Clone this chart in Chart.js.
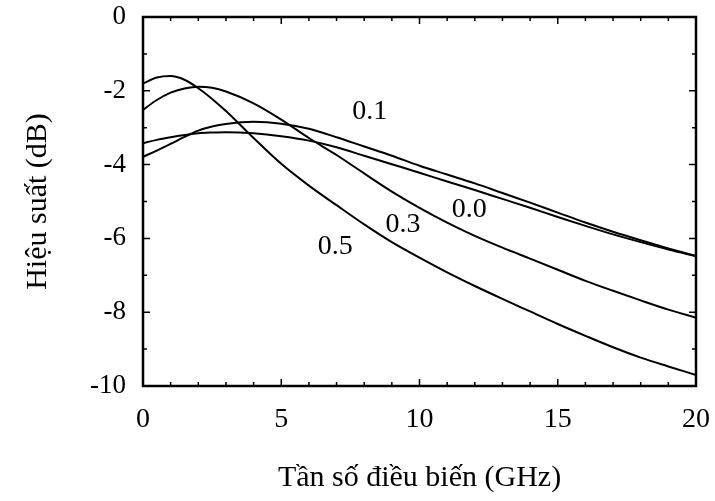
<!DOCTYPE html>
<html>
<head>
<meta charset="utf-8">
<script src="https://cdn.jsdelivr.net/npm/chart.js@4"></script>
<style>
  html, body { margin: 0; padding: 0; background: #fff; }
  #wrap { width: 715px; height: 501px; }
</style>
</head>
<body>
<div id="wrap"><canvas id="c" width="715" height="501"></canvas></div>
<script>
// ─ Data ──────────────────────────────────────────────────────────────────────
const freqGHz = [0, 0.5, 1, 1.5, 2, 2.5, 3, 4, 5, 6, 7, 8, 9, 10, 11, 12, 13, 14, 15, 16, 17, 18, 19, 20];

const eff00 = [-3.42, -3.33, -3.26, -3.20, -3.15, -3.13, -3.12, -3.15, -3.23, -3.35, -3.53, -3.76,
               -3.99, -4.22, -4.46, -4.69, -4.93, -5.17, -5.42, -5.66, -5.89, -6.10, -6.30, -6.48];
const eff01 = [-3.79, -3.62, -3.44, -3.25, -3.08, -2.97, -2.90, -2.84, -2.89, -3.03, -3.26, -3.51,
               -3.76, -4.03, -4.27, -4.51, -4.77, -5.03, -5.30, -5.57, -5.82, -6.05, -6.27, -6.48];
const eff03 = [-2.52, -2.25, -2.05, -1.94, -1.89, -1.92, -2.02, -2.34, -2.78, -3.28, -3.74, -4.24,
               -4.73, -5.17, -5.57, -5.93, -6.25, -6.55, -6.85, -7.15, -7.42, -7.68, -7.93, -8.15];
const eff05 = [-1.80, -1.64, -1.60, -1.70, -1.93, -2.22, -2.55, -3.28, -3.98, -4.57, -5.10, -5.62,
               -6.10, -6.52, -6.92, -7.29, -7.64, -7.98, -8.32, -8.64, -8.95, -9.23, -9.47, -9.70];

const seriesNames  = ['0.0', '0.1', '0.3', '0.5'];
const seriesValues = [eff00, eff01, eff03, eff05];

// curve labels: [text, x (GHz), y (dB)]
const curveLabels = [
  ['0.1', 8.2, -2.57],
  ['0.0', 11.8, -5.23],
  ['0.3', 9.4, -5.64],
  ['0.5', 6.95, -6.21],
];

const xTitle = 'Tần số điều biến (GHz)';
const yTitle = 'Hiệu suất (dB)';

const SERIF = '"Liberation Serif", "DejaVu Serif", serif';

// ─ Frame + inward ticks + curve labels ───────────────────────────────────────
const framePlugin = {
  id: 'frame',
  afterDatasetsDraw(chart) {
    const { ctx, chartArea: a, scales: { x, y } } = chart;
    ctx.save();
    ctx.strokeStyle = '#000';

    // inward tick marks on all four sides
    ctx.lineWidth = 1.5;
    for (let v = 1; v < 20; v++) {
      const px = x.getPixelForValue(v);
      const len = v % 5 === 0 ? 7 : 4;
      ctx.beginPath();
      ctx.moveTo(px, a.bottom); ctx.lineTo(px, a.bottom - len);
      ctx.moveTo(px, a.top);    ctx.lineTo(px, a.top + len);
      ctx.stroke();
    }
    for (let v = -9; v < 0; v++) {
      const py = y.getPixelForValue(v);
      const len = v % 2 === 0 ? 7 : 4;
      ctx.beginPath();
      ctx.moveTo(a.left, py);  ctx.lineTo(a.left + len, py);
      ctx.moveTo(a.right, py); ctx.lineTo(a.right - len, py);
      ctx.stroke();
    }

    ctx.lineWidth = 2.5;
    ctx.strokeRect(a.left, a.top, a.right - a.left, a.bottom - a.top);

    ctx.fillStyle = '#000';
    ctx.font = '28px ' + SERIF;
    ctx.textAlign = 'center';
    ctx.textBaseline = 'middle';
    curveLabels.forEach(([t, gx, gy]) => {
      ctx.fillText(t, x.getPixelForValue(gx), y.getPixelForValue(gy));
    });
    ctx.restore();
  }
};

const datasets = seriesValues.map((vals, i) => ({
  label: seriesNames[i],
  data: freqGHz.map((f, j) => ({ x: f, y: vals[j] })),
  borderColor: '#000',
  borderWidth: 2,
  pointRadius: 0,
  fill: false,
  cubicInterpolationMode: 'monotone',
}));

new Chart(document.getElementById('c'), {
  type: 'line',
  data: { datasets },
  plugins: [framePlugin],
  options: {
    responsive: false,
    animation: false,
    layout: { autoPadding: false, padding: { top: 17, right: 19, left: 0, bottom: 0 } },
    plugins: { legend: { display: false }, tooltip: { enabled: false } },
    scales: {
      x: {
        type: 'linear',
        min: 0, max: 20,
        afterFit(s) { s.height = 115; s.paddingLeft = 0; s.paddingRight = 0; },
        grid: { display: false, drawTicks: false },
        border: { display: false },
        ticks: { stepSize: 5, padding: 17, color: '#000', font: { family: SERIF, size: 28 } },
        title: { display: true, text: xTitle, color: '#000', padding: { top: 0, bottom: 5 },
                 font: { family: SERIF, size: 30 } },
      },
      y: {
        min: -10, max: 0,
        afterFit(s) { s.width = 143; s.paddingTop = 0; s.paddingBottom = 0; },
        grid: { display: false, drawTicks: false },
        border: { display: false },
        ticks: { stepSize: 2, padding: 17, color: '#000', font: { family: SERIF, size: 27 } },
        title: { display: true, text: yTitle, color: '#000', padding: { top: 20, bottom: 0 },
                 font: { family: SERIF, size: 30 } },
      },
    },
  },
});
</script>
</body>
</html>
